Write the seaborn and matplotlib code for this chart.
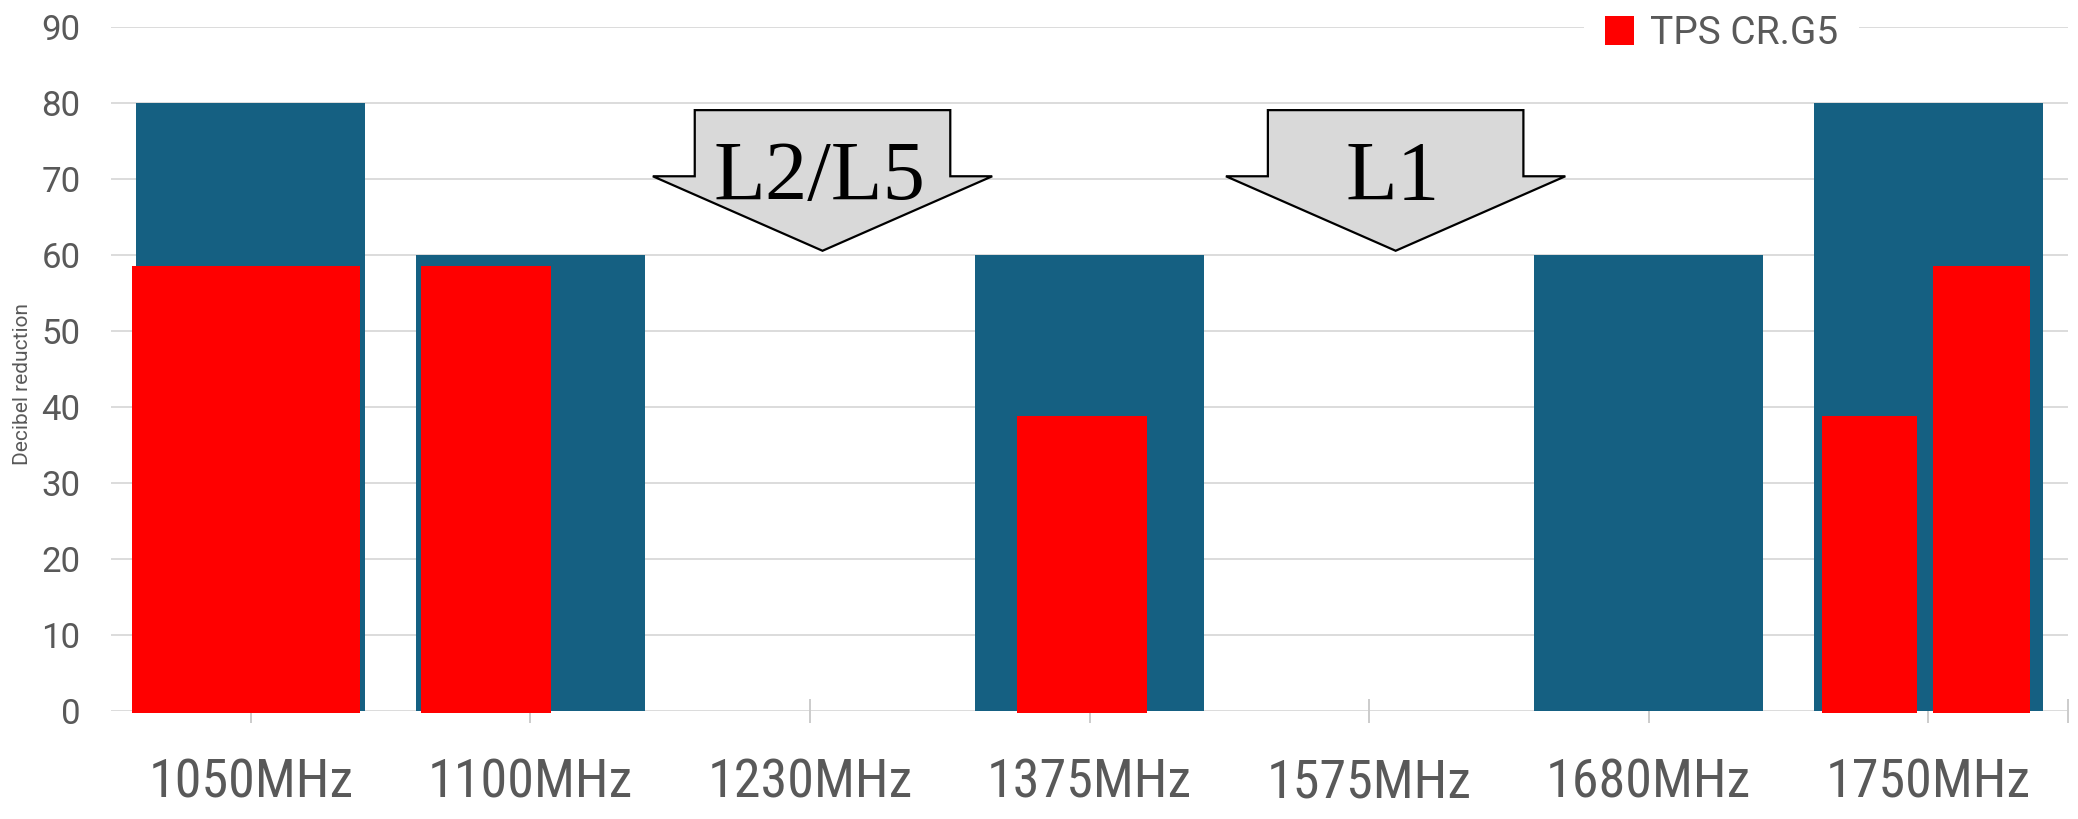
import numpy as np
import pandas as pd
import matplotlib
matplotlib.use("Agg")
import matplotlib.pyplot as plt
from matplotlib import font_manager
from matplotlib.patches import Polygon, Patch
import seaborn as sns

# ---- data ----
categories = ["1050MHz", "1100MHz", "1230MHz", "1375MHz", "1575MHz", "1680MHz", "1750MHz"]
required_db = [80, 60, 0, 60, 0, 60, 80]

# TPS CR.G5 measured reduction (one entry per drawn bar)
tps_categories = ["1050MHz", "1100MHz", "1375MHz", "1750MHz", "1750MHz"]
tps_values = [58.5, 58.5, 38.7, 38.7, 58.5]

band_labels = ["L2/L5", "L1"]
band_categories = ["1230MHz", "1575MHz"]

y_ticks = list(range(0, 100, 10))

# ---- style ----
sns.set_theme(style="white")
plt.rcParams["font.family"] = ["Roboto", "DejaVu Sans"]


def pick_narrow_font():
    """Return (family, stretch, size) for a condensed face if one is installed."""
    entries = font_manager.fontManager.ttflist
    names = {f.name for f in entries}
    for nm in ["Liberation Sans Narrow", "Roboto Condensed", "Open Sans Condensed",
               "Noto Sans Condensed", "DejaVu Sans Condensed", "Arial Narrow"]:
        if nm in names:
            return nm, "normal", 39
    for fam in ["Roboto", "Noto Sans", "Open Sans", "DejaVu Sans"]:
        for f in entries:
            if f.name == fam and f.style == "normal" and str(f.stretch) in (
                    "condensed", "semi-condensed", "extra-condensed"):
                return fam, f.stretch, 39
    for f in entries:
        low = f.name.lower()
        if ("condensed" in low or "narrow" in low) and f.style == "normal":
            return f.name, "normal", 39
    return "Roboto", "normal", 33


xfont, xstretch, xsize = pick_narrow_font()

TEAL = "#156082"
RED = "#ff0000"
GRID = "#d9d9d9"
TEXT = "#595959"

fig = plt.figure(figsize=(20.78, 8.19), dpi=100)
ax = fig.add_axes([0.05342, 0.13223, 0.94177, 0.83541])

# light horizontal grid drawn behind everything
for yv in y_ticks:
    ax.axhline(yv, color=GRID, lw=1.3, zorder=0.5)

df = pd.DataFrame({"band": categories, "db": required_db})
sns.barplot(data=df, x="band", y="db", order=categories, color=TEAL,
            saturation=1, width=0.82, linewidth=0, ax=ax, zorder=1)

# red bars, placed inside each category slot
slot_offset = [-0.017, -0.158, -0.026, -0.21, 0.19]
slot_width = [0.816, 0.465, 0.465, 0.343, 0.347]
base = -0.35
xpos = [categories.index(c) + o for c, o in zip(tps_categories, slot_offset)]
ax.bar(xpos, [v - base for v in tps_values], width=slot_width, bottom=base,
       color=RED, linewidth=0, zorder=3, clip_on=False)

# down-pointing band arrows
for lab, cat in zip(band_labels, band_categories):
    cx = categories.index(cat) + (0.045 if cat == "1230MHz" else 0.095)
    shaft, wing = 0.457, 0.607
    top, neck, tip = 79.0, 70.3, 60.5
    pts = [(cx - shaft, top), (cx + shaft, top), (cx + shaft, neck),
           (cx + wing, neck), (cx, tip), (cx - wing, neck), (cx - shaft, neck)]
    ax.add_patch(Polygon(pts, closed=True, facecolor="#d9d9d9",
                         edgecolor="black", lw=1.6, zorder=4))
    ax.text(cx - 0.01, 67.2, lab, ha="center", va="baseline",
            fontsize=61, family=["Liberation Serif", "DejaVu Serif"],
            color="black", zorder=5)

ax.set_xlim(-0.5, 6.5)
ax.set_ylim(0, 90)
ax.set_yticks(y_ticks)
ax.set_yticklabels([str(v) for v in y_ticks])
ax.set_xticks(range(len(categories)))
ax.set_xticklabels(categories)
ax.set_xticks([6.5], minor=True)

for s in ax.spines.values():
    s.set_visible(False)

ax.tick_params(axis="y", left=False, length=0, pad=22, labelsize=25, labelcolor=TEXT)
ax.tick_params(axis="x", which="both", bottom=True, direction="inout", length=17,
               width=1.4, color="#cccccc", pad=25)
ax.tick_params(axis="x", which="major", labelsize=xsize, labelcolor=TEXT)
for t in ax.get_xticklabels():
    t.set_family([xfont, "DejaVu Sans"])
    t.set_fontstretch(xstretch)

ax.set_xlabel("")
ax.set_ylabel("Decibel reduction", fontsize=15, color=TEXT)
ax.yaxis.set_label_coords(-0.0405, 0.477)

leg = ax.legend(handles=[Patch(facecolor=RED, edgecolor="none", label="TPS CR.G5")],
                loc="center", bbox_to_anchor=(0.823, 0.99), frameon=True,
                fontsize=28, handlelength=0.75, handleheight=0.75,
                handletextpad=0.4, borderpad=0.55, borderaxespad=0)
leg.get_frame().set_facecolor("white")
leg.get_frame().set_edgecolor("none")
leg.get_frame().set_alpha(1)
leg.set_zorder(6)
for t in leg.get_texts():
    t.set_color(TEXT)

fig.savefig("out.png", dpi=100, facecolor="white")
